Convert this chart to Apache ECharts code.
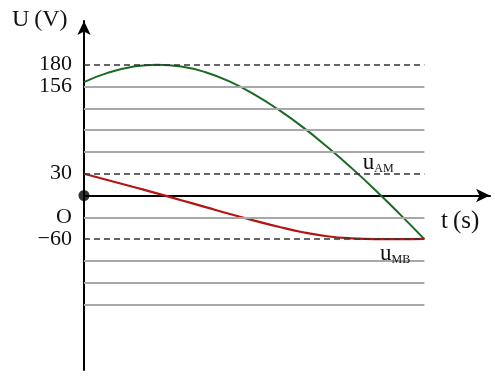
<!DOCTYPE html>
<html>
<head>
<meta charset="utf-8">
<script src="https://cdn.jsdelivr.net/npm/echarts@6/dist/echarts.min.js"></script>
<style>html,body{margin:0;padding:0;background:#fff}#c{width:495px;height:379px}</style>
</head>
<body>
<div id="c"></div>
<script>
// time samples (arbitrary units)
const tValues = [0,1,2,3,4,5,6,7,8,9,10,11,12,13,14];
// u_AM (V)
const uAM = [156,169,177,180,177.5,169.5,156.5,139,118,94,67,38,7,-26,-60];
// u_MB (V)
const uMB = [30,21,12,3,-6.5,-16,-25.5,-34.5,-43,-50.5,-56,-59,-60,-60,-59.6];
// gray reference lines and dashed reference lines (V)
const grayLevels = [150,120,90,60,-30,-90,-120,-150];
const dashedLevels = [180,30,-60];
// y tick labels
const tickLabels = {180:'180',150:'156',30:'30','-30':'O','-60':'\u221260'};
const tEnd = 14;

const serif = '"Liberation Serif","DejaVu Serif",serif';
const chart = echarts.init(document.getElementById('c'));

const lineMarks = grayLevels.map(v => [
  {coord:[0,v], lineStyle:{color:'#a8a8a8', width:2, type:'solid'}},
  {coord:[tEnd,v]}
]).concat(dashedLevels.map(v => [
  {coord:[0,v], lineStyle:{color:'#333', width:1.5, type:[6,4]}},
  {coord:[tEnd,v]}
]));

const subLabel = (txt) => ({
  show:true, position:'inside', formatter:'{u|u}{s|' + txt + '}',
  rich:{u:{fontFamily:serif, fontSize:23, color:'#111'},
        s:{fontFamily:serif, fontSize:12, color:'#111', padding:[12,0,0,0]}}
});

chart.setOption({
  animation:false,
  backgroundColor:'#fff',
  grid:{left:84, right:5, top:21, bottom:9, containLabel:false},
  xAxis:{
    type:'value', min:0, max:16.7,
    axisLine:{onZero:true, symbol:['none','arrow'], symbolSize:[10,14], lineStyle:{color:'#000', width:2}},
    axisTick:{show:false}, axisLabel:{show:false}, splitLine:{show:false}
  },
  yAxis:{
    type:'value', min:-240, max:240, interval:30,
    axisLine:{show:true, onZero:false, symbol:['none','arrow'], symbolSize:[10,14], lineStyle:{color:'#000', width:2}},
    axisTick:{show:false}, splitLine:{show:false},
    axisLabel:{margin:12, fontFamily:serif, fontSize:22, color:'#111',
      formatter: v => tickLabels[v] || ''}
  },
  graphic:[
    {type:'text', left:12, top:8, style:{text:'U\u2009(V)', font:'24px '+serif, fill:'#111'}},
    {type:'text', left:441, top:209, style:{text:'t\u2009(s)', font:'25px '+serif, fill:'#111'}}
  ],
  series:[
    {type:'line', data:[], markLine:{silent:true, symbol:['none','none'], label:{show:false}, data:lineMarks}, z:1},
    {type:'line', name:'uAM', smooth:true, showSymbol:false, data:tValues.map((t,i)=>[t,uAM[i]]),
      lineStyle:{color:'#1b6a24', width:2}, z:3,
      markPoint:{symbol:'circle', symbolSize:0, data:[{coord:[12.1,45], value:''}], label:subLabel('AM')}
    },
    {type:'line', name:'uMB', smooth:true, showSymbol:false, data:tValues.map((t,i)=>[t,uMB[i]]),
      lineStyle:{color:'#b31414', width:2.2}, z:3,
      markPoint:{symbol:'circle', symbolSize:0, data:[{coord:[12.8,-80], value:''}], label:subLabel('MB')}
    },
    {type:'scatter', data:[[0,0]], symbolSize:11, itemStyle:{color:'#000'}, z:5}
  ]
});
</script>
</body>
</html>
